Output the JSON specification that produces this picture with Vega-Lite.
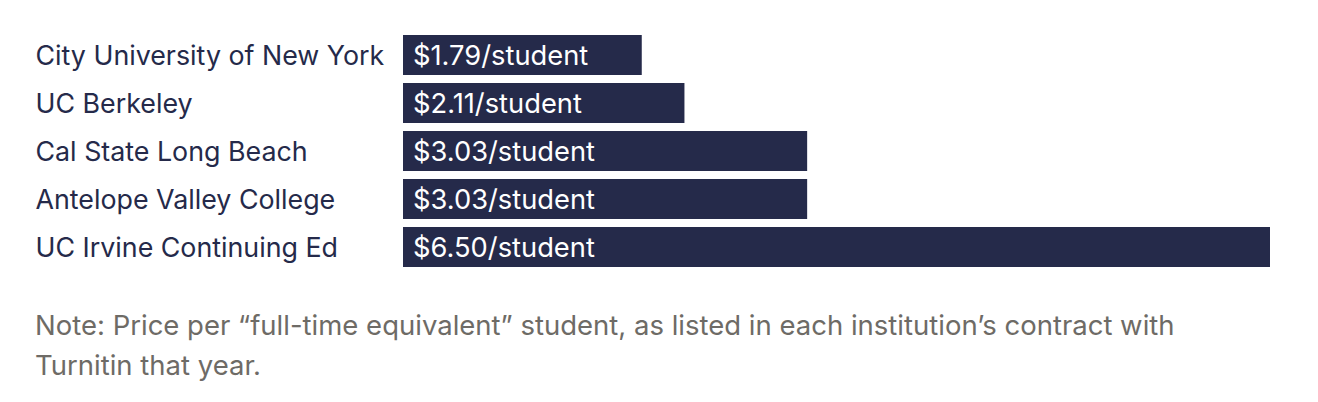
{
  "$schema": "https://vega.github.io/schema/vega-lite/v6.json",
  "width": 867,
  "height": 240,
  "autosize": {"type": "none"},
  "padding": {"left": 403, "top": 31, "right": 48, "bottom": 131},
  "background": "white",
  "data": {"values": [
    {"institution": "City University of New York", "price": 1.79, "label": "$1.79/student"},
    {"institution": "UC Berkeley", "price": 2.11, "label": "$2.11/student"},
    {"institution": "Cal State Long Beach", "price": 3.03, "label": "$3.03/student"},
    {"institution": "Antelope Valley College", "price": 3.03, "label": "$3.03/student"},
    {"institution": "UC Irvine Continuing Ed", "price": 6.50, "label": "$6.50/student"}
  ]},
  "title": {
    "text": ["Note: Price per “full-time equivalent” student, as listed in each institution’s contract with", "Turnitin that year."],
    "orient": "bottom",
    "anchor": "start",
    "frame": "group",
    "dx": -368,
    "offset": 42,
    "font": "Inter",
    "fontSize": 27.5,
    "fontWeight": "normal",
    "color": "#6e6b66",
    "lineHeight": 40,
    "baseline": "top"
  },
  "config": {"view": {"stroke": null}},
  "encoding": {
    "y": {
      "field": "institution", "type": "nominal", "sort": null,
      "scale": {"paddingInner": 0.1667, "paddingOuter": 0.0833},
      "axis": {
        "title": null, "ticks": false, "domain": false,
        "labelAlign": "left", "labelPadding": 368, "labelOffset": 2,
        "labelFont": "Inter", "labelFontSize": 26.8, "labelColor": "#252a4a",
        "labelLimit": 400
      }
    }
  },
  "layer": [
    {
      "mark": {"type": "bar", "color": "#252a4a"},
      "encoding": {
        "x": {"field": "price", "type": "quantitative", "scale": {"domain": [0, 6.5], "nice": false}, "axis": null}
      }
    },
    {
      "mark": {"type": "text", "align": "left", "baseline": "middle", "dx": 10, "dy": 2, "color": "white", "font": "Inter", "fontSize": 27.3},
      "encoding": {
        "x": {"datum": 0, "type": "quantitative"},
        "text": {"field": "label"}
      }
    }
  ]
}
